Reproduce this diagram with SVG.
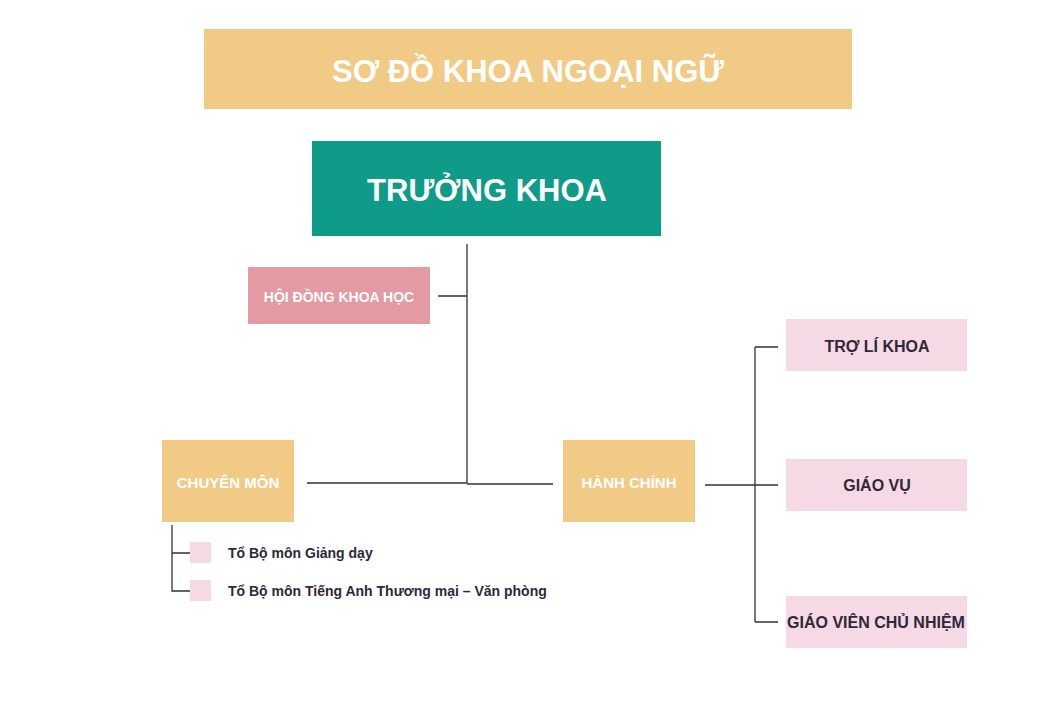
<svg xmlns="http://www.w3.org/2000/svg" width="1056" height="720" viewBox="0 0 1056 720">
<style>
text{font-family:"Liberation Sans",Arial,sans-serif;font-weight:bold;text-anchor:middle;dominant-baseline:central}
.ln{stroke:#333;stroke-width:1.3;fill:none}
.pk{fill:#f5d9e4}
.dk{fill:#2e2838}
</style>
<rect width="1056" height="720" fill="#fff"/>
<g id="title"><rect x="204" y="29" width="648" height="80" fill="#f1cb85"/><text x="528" y="71" font-size="31" fill="#fff">SƠ ĐỒ KHOA NGOẠI NGỮ</text></g>
<g id="connectors">
<path class="ln" d="M467 244V483M438 296H467M307 483H467M467 484H553M705 485H778M755 347V622M755 347H778M755 622H778M172 525V591H203M172 553H203"/>
</g>
<g id="truongkhoa"><rect x="312" y="141" width="349" height="95" fill="#0e9b87"/><text x="487" y="190" font-size="31" fill="#fff">TRƯỞNG KHOA</text></g>
<g id="hoidong"><rect x="248" y="267" width="182" height="57" fill="#e39aa3"/><text x="339" y="297" font-size="14" fill="#fff">HỘI ĐỒNG KHOA HỌC</text></g>
<g id="chuyenmon"><rect x="162" y="440" width="132" height="82" fill="#f1cb85"/><text x="228" y="482" font-size="15" fill="#fff">CHUYÊN MÔN</text></g>
<g id="hanhchinh"><rect x="563" y="440" width="132" height="82" fill="#f1cb85"/><text x="629" y="482" font-size="15" fill="#fff">HÀNH CHÍNH</text></g>
<g id="troli"><rect class="pk" x="786" y="319" width="181" height="52"/><text class="dk" x="877" y="346" font-size="16">TRỢ LÍ KHOA</text></g>
<g id="giaovu"><rect class="pk" x="786" y="459" width="181" height="52"/><text class="dk" x="877" y="485" font-size="16">GIÁO VỤ</text></g>
<g id="gvcn"><rect class="pk" x="786" y="596" width="181" height="52"/><text class="dk" x="876" y="622" font-size="16">GIÁO VIÊN CHỦ NHIỆM</text></g>
<g id="to1"><rect class="pk" x="190" y="542" width="21" height="21"/><text class="dk" x="228" y="553" font-size="14" style="text-anchor:start">Tổ Bộ môn Giảng dạy</text></g>
<g id="to2"><rect class="pk" x="190" y="580" width="21" height="21"/><text class="dk" x="228" y="591" font-size="14" style="text-anchor:start">Tổ Bộ môn Tiếng Anh Thương mại – Văn phòng</text></g>
</svg>
